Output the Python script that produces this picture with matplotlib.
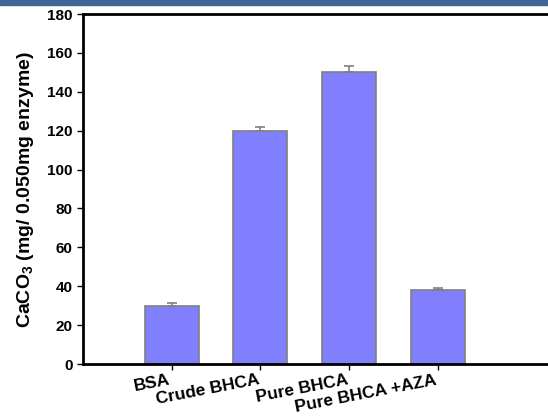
import numpy as np
import matplotlib
matplotlib.use("Agg")
import matplotlib.pyplot as plt
from matplotlib.patches import Rectangle

plt.rcParams['font.family'] = ['Liberation Sans', 'DejaVu Sans']
plt.rcParams['font.weight'] = 'bold'
plt.rcParams['mathtext.fontset'] = 'custom'
plt.rcParams['mathtext.bf'] = 'Liberation Sans:bold'
plt.rcParams['mathtext.rm'] = 'Liberation Sans:bold'
plt.rcParams['mathtext.default'] = 'bf'

samples = ["BSA", "Crude BHCA", "Pure BHCA", "Pure BHCA +AZA"]
caco3 = [30, 120, 150, 38]
errors = [1.5, 2.0, 3.5, 1.3]
yticks = [0, 20, 40, 60, 80, 100, 120, 140, 160, 180]

fig = plt.figure(figsize=(5.48, 4.17), dpi=100)
# blue band along the top
fig.patches.append(Rectangle((0, 0.988), 1, 0.012, transform=fig.transFigure,
                             color="#3f6595", zorder=0))

ax = fig.add_axes([0.1515, 0.127, 0.89, 0.8393])
x = np.arange(len(samples))
ax.bar(x, caco3, width=0.61, color="#8080ff", edgecolor="#808080", linewidth=1.2, zorder=2)
ax.errorbar(x, caco3, yerr=[np.zeros(len(errors)), errors], fmt="none",
            ecolor="#808080", elinewidth=1.2, capsize=3.5, capthick=1.2, zorder=3)

ax.set_xlim(-1, 4.5)
ax.set_ylim(0, 180)
ax.set_yticks(yticks)
ax.set_xticks(x)
ax.set_xticklabels(samples, rotation=11, ha="right", fontsize=12.5, fontweight="bold")
ax.tick_params(axis="y", labelsize=11, direction="out", length=4, width=1)
ax.tick_params(axis="x", direction="out", length=4, width=1, pad=2)
for lbl in ax.get_yticklabels():
    lbl.set_fontweight("bold")

for side in ["left", "bottom", "top"]:
    ax.spines[side].set_linewidth(2)
ax.spines["right"].set_visible(False)

ax.set_ylabel(r"CaCO$_3$ (mg/ 0.050mg enzyme)", fontsize=14, fontweight="bold", labelpad=8)

fig.savefig("out.png", dpi=100)
